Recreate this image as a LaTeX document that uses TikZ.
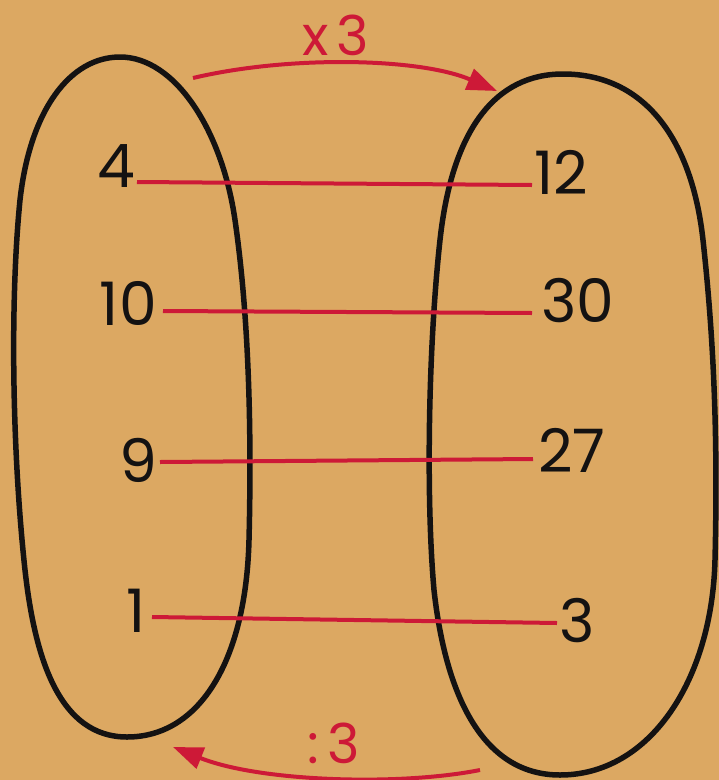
\documentclass[tikz,border=0pt]{standalone}
\usepackage{fontspec}
\setmainfont{Poppins}
\usetikzlibrary{arrows.meta}
\definecolor{paper}{RGB}{220,168,98}
\definecolor{ink}{RGB}{20,18,18}
\definecolor{redink}{RGB}{205,25,55}
\tikzset{
  setline/.style={draw=ink, line width=5.5pt, line join=round},
  num/.style={inner sep=0pt, text=ink, font=\fontsize{60}{60}\selectfont},
  oplabel/.style={inner sep=0pt, text=redink, font=\fontsize{55}{55}\selectfont},
  pairline/.style={draw=redink, line width=4pt},
  maparrow/.style={draw=redink, line width=4pt, -{Triangle[length=30pt,width=22pt]}}
}
\begin{document}
\begin{tikzpicture}[x=1pt,y=-1pt]
\useasboundingbox (0,0) rectangle (719,780);
\fill[paper] (0,0) rectangle (719,780);

% left set
\draw[setline] (120,57) .. controls (175,57) and (222,130) .. (235,220)
  .. controls (248,310) and (252,420) .. (249,540)
  .. controls (246,660) and (200,737) .. (127,737)
  .. controls (60,737) and (35,660) .. (25,570)
  .. controls (12,450) and (10,300) .. (20,200)
  .. controls (30,110) and (70,57) .. cycle;
% right set
\draw[setline] (563,74) .. controls (645,74) and (692,140) .. (703,240)
  .. controls (714,340) and (718,440) .. (715,560)
  .. controls (712,680) and (650,775) .. (560,775)
  .. controls (480,775) and (445,690) .. (434,590)
  .. controls (426,500) and (428,350) .. (440,240)
  .. controls (452,130) and (495,74) .. cycle;

% numbers
\node[num, anchor=base east] (n4)  at (135,187) {4};
\node[num, anchor=base east] (n10) at (157,325) {10};
\node[num, anchor=base east] (n9)  at (157,482) {9};
\node[num, anchor=base east] (n1)  at (146,632) {1};
\node[num, anchor=base west] (n12) at (534,194) {12};
\node[num, anchor=base west] (n30) at (541,322) {30};
\node[num, anchor=base west] (n27) at (538,472) {27};
\node[num, anchor=base west] (n3)  at (559,642) {3};

% pair lines
\draw[pairline] ([xshift=2pt,yshift=5pt]n4.base east) -- ([xshift=-2pt,yshift=9pt]n12.base west);
\draw[pairline] ([xshift=6pt,yshift=14pt]n10.base east) -- ([xshift=-9pt,yshift=9pt]n30.base west);
\draw[pairline] ([xshift=3pt,yshift=20pt]n9.base east) -- ([xshift=-5pt,yshift=13pt]n27.base west);
\draw[pairline] ([xshift=6pt,yshift=15pt]n1.base east) -- ([xshift=-2pt,yshift=19pt]n3.base west);

% operations
\node[oplabel, anchor=base] (times) at (336,55) {x\kern8pt 3};
\node[oplabel, anchor=base] (divide) at (334,763) {:\kern8pt 3};
\coordinate (ts) at (193,78);
\coordinate (te) at (497,91);
\coordinate (bs) at (480,770);
\coordinate (be) at (173,747);
\draw[maparrow] (ts) .. controls (290,55) and (420,58) .. (te);
\draw[maparrow] (bs) .. controls (400,786) and (260,782) .. (be);
\end{tikzpicture}
\end{document}
